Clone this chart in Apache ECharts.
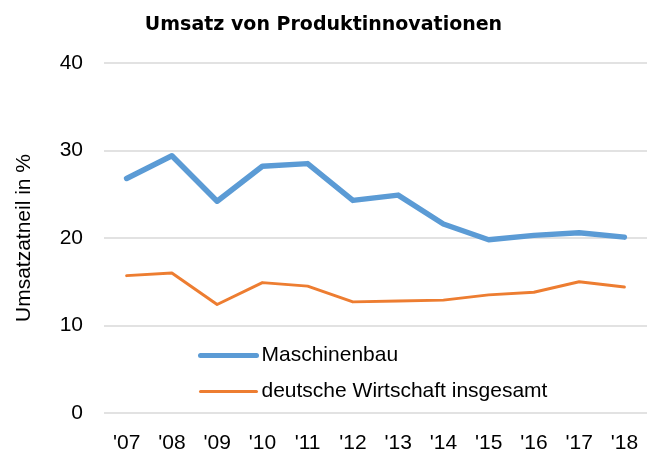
<!DOCTYPE html>
<html>
<head>
<meta charset="utf-8">
<script src="https://cdn.jsdelivr.net/npm/echarts@6/dist/echarts.min.js"></script>
<style>
  html, body { margin: 0; padding: 0; background: #fff; }
  #chart { width: 647px; height: 454px; }
</style>
</head>
<body>
<div id="chart"></div>
<script>
// Jahre (Kategorien)
const years = ["'07", "'08", "'09", "'10", "'11", "'12", "'13", "'14", "'15", "'16", "'17", "'18"];

// Umsatzanteil in %
const maschinenbau = [26.8, 29.4, 24.2, 28.2, 28.5, 24.3, 24.9, 21.6, 19.8, 20.3, 20.6, 20.1];
const gesamt = [15.7, 16.0, 12.4, 14.9, 14.5, 12.7, 12.8, 12.9, 13.5, 13.8, 15.0, 14.4];

const labelFont = 'Liberation Sans, Arial, sans-serif';

const chart = echarts.init(document.getElementById('chart'));

const option = {
    animation: false,
    title: {
        text: 'Umsatz von Produktinnovationen',
        left: 'center',
        top: 11,
        textStyle: {
            fontFamily: 'DejaVu Sans, Verdana, sans-serif',
            fontWeight: 'bold',
            fontSize: 19,
            color: '#000'
        }
    },
    legend: {
        orient: 'vertical',
        left: 193,
        top: 340,
        itemWidth: 56,
        itemHeight: 21,
        itemGap: 15,
        itemStyle: { opacity: 0 },
        textStyle: { fontFamily: labelFont, fontSize: 21, color: '#000' },
        data: [
            { name: 'Maschinenbau', lineStyle: { width: 5, cap: 'round' } },
            { name: 'deutsche Wirtschaft insgesamt', lineStyle: { width: 3, cap: 'round' } }
        ]
    },
    grid: {
        left: 104,
        top: 63,
        width: 551,
        height: 351
    },
    xAxis: {
        type: 'category',
        data: years,
        boundaryGap: true,
        axisLine: { show: false },
        axisTick: { show: false },
        axisLabel: { margin: 20, fontFamily: labelFont, fontSize: 21, color: '#000' }
    },
    yAxis: {
        type: 'value',
        min: 0,
        max: 40,
        interval: 10,
        name: 'Umsatzatneil in %',
        nameLocation: 'middle',
        nameGap: 69,
        nameTextStyle: { fontFamily: labelFont, fontSize: 21, color: '#000' },
        axisLine: { show: false },
        axisTick: { show: false },
        axisLabel: { margin: 21, fontFamily: labelFont, fontSize: 21, color: '#000' },
        splitLine: { lineStyle: { color: '#d9d9d9', width: 1.5 } }
    },
    series: [
        {
            name: 'Maschinenbau',
            type: 'line',
            data: maschinenbau,
            symbol: 'none',
            lineStyle: { color: '#5b9bd5', width: 5.5, cap: 'round', join: 'round' },
            itemStyle: { color: '#5b9bd5' }
        },
        {
            name: 'deutsche Wirtschaft insgesamt',
            type: 'line',
            data: gesamt,
            symbol: 'none',
            lineStyle: { color: '#ed7d31', width: 3, cap: 'round', join: 'round' },
            itemStyle: { color: '#ed7d31' }
        }
    ]
};

chart.setOption(option);
</script>
</body>
</html>
